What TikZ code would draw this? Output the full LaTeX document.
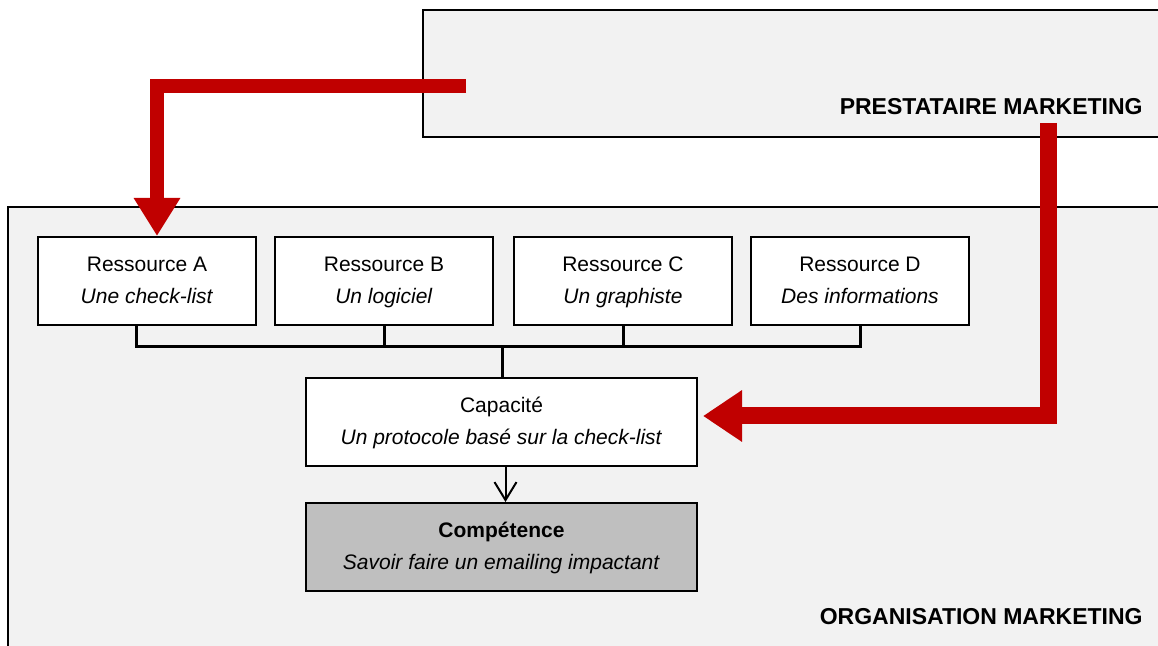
\documentclass[tikz,border=0pt]{standalone}
\usepackage{fontspec}
\setmainfont{Liberation Sans}
\usetikzlibrary{positioning, arrows.meta}
\definecolor{darkred}{HTML}{C00000}

\begin{document}
\begin{tikzpicture}[x=0.5pt,y=-0.5pt,font=\fontsize{10.5}{16}\selectfont,
    frame/.style={draw,line width=1.2pt,fill=black!5},
    res node/.style={rectangle,draw,line width=1pt,fill=white,minimum width=109pt,minimum height=44pt,align=center,inner sep=0pt},
    cap node/.style={res node,minimum width=195.5pt},
    comp node/.style={cap node,fill=black!25},
    title node/.style={font=\bfseries\fontsize{11.5}{14}\selectfont,anchor=east,inner sep=0pt},
    link/.style={line width=1.5pt},
    big arrow/.style={draw=darkred,line width=#1}]

\useasboundingbox (0,0) rectangle (1158,646);
\clip (0,0) rectangle (1158,646);

% the two areas
\draw[frame] (423,10) rectangle (1180,137);
\draw[frame] (8,207) rectangle (1180,670);
\node[title node] (prest) at (1143,107) {PRESTATAIRE MARKETING};
\node[title node] (orga)  at (1143,617) {ORGANISATION MARKETING};

\node[res node]  (ressA) at (147,281)          {\strut Ressource A\\\textit{Une check-list}\strut};
\node[res node]  (ressB) [right=8.5pt of ressA] {\strut Ressource B\\\textit{Un logiciel}\strut};
\node[res node]  (ressC) [right=9.5pt of ressB] {\strut Ressource C\\\textit{Un graphiste}\strut};
\node[res node]  (ressD) [right=8.5pt of ressC] {\strut Ressource D\\\textit{Des informations}\strut};
\node[cap node]  (capa)  at (501.5,422)        {\strut Capacité\\\textit{Un protocole basé sur la check-list}\strut};
\node[comp node] (comp)  [below=17.5pt of capa] {\strut\textbf{Compétence}\\\textit{Savoir faire un emailing impactant}\strut};

% bracket joining the resources
\coordinate (joint) at (502,347);
\draw[link] ([xshift=-5.5pt]ressA.south) |- (joint) -| (ressD.south);
\draw[link] (ressB.south) -- (ressB.south |- joint);
\draw[link] (ressC.south) -- (ressC.south |- joint);
\draw[link] (joint) -- (joint |- capa.north);
\draw[line width=1pt,-{Straight Barb[length=9pt,width=11pt]}] ([xshift=2pt]capa.south) -- ([xshift=2pt]capa.south |- comp.north);

% red arrows from the provider
\coordinate (src1) at (466,86);
\coordinate (src2) at (1048.5,123);
\draw[big arrow=7pt,-{Triangle[length=19pt,width=22pt]},darkred] (src1) -| ([xshift=5pt]ressA.north);
\draw[big arrow=8.5pt,-{Triangle[length=19.5pt,width=24.5pt]},darkred] (src2) |- ([xshift=2.5pt,yshift=3pt]capa.east);
\end{tikzpicture}
\end{document}
